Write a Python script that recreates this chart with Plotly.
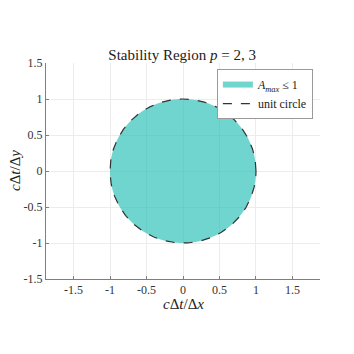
import numpy as np
import plotly.graph_objects as go

# stability region (|A| <= 1) for p = 2, 3 coincides with the unit disc
RADIUS = 1.0
N_POINTS = 361
X_TICKS = [-1.5, -1, -0.5, 0, 0.5, 1, 1.5]
Y_TICKS = [-1.5, -1, -0.5, 0, 0.5, 1, 1.5]
X_LABELS = ["-1.5", "-1", "-0.5", "0", "0.5", "1", "1.5"]
Y_LABELS = ["-1.5", "-1", "-0.5", "0", "0.5", "1", "1.5"]

theta = np.linspace(0, 2 * np.pi, N_POINTS)
cx = RADIUS * np.cos(theta)
cy = RADIUS * np.sin(theta)

SERIF = "Liberation Serif, DejaVu Serif, serif"
TEAL = "rgba(26,188,178,0.62)"
AXIS = "#7f7f7f"
GRID = "#ececec"
INK = "#222222"

fig = go.Figure()
fig.add_trace(go.Scatter(x=cx, y=cy, fill="toself", fillcolor=TEAL, mode="none",
                         name="<i>A</i><sub><i>max</i></sub> ≤ 1"))
fig.add_trace(go.Scatter(x=cx, y=cy, mode="lines", name="unit circle",
                         line=dict(color="#333333", width=1.2, dash="dash")))

axis_common = dict(showgrid=True, gridcolor=GRID, gridwidth=1, zeroline=False,
                   showline=True, linecolor=AXIS, linewidth=1, ticks="inside",
                   ticklen=3, tickcolor=AXIS, mirror=False, automargin=False,
                   tickfont=dict(family=SERIF, size=12, color="#333333"))

# axis titles placed as annotations for tighter control
fig.add_annotation(text="<i>c</i>Δ<i>t</i>/Δ<i>x</i>", xref="paper", yref="paper",
                   x=0.5, y=0, yanchor="middle", yshift=-25, showarrow=False,
                   font=dict(family=SERIF, size=15, color=INK))
fig.add_annotation(text="<i>c</i>Δ<i>t</i>/Δ<i>y</i>", xref="paper", yref="paper",
                   x=0, y=0.5, xanchor="center", xshift=-31, textangle=-90,
                   showarrow=False, font=dict(family=SERIF, size=15, color=INK))

# page body adds an 8px offset, so margins are shifted to compensate
fig.update_layout(
    width=354, height=354,
    paper_bgcolor="white", plot_bgcolor="white",
    margin=dict(l=38, r=42, t=55, b=83),
    title=dict(text="Stability Region <i>p</i> = 2, 3", x=0.492, xanchor="center",
               y=0.868, yanchor="middle",
               font=dict(family=SERIF, size=15, color=INK)),
    xaxis=dict(range=[-1.877, 1.877], tickvals=X_TICKS, ticktext=X_LABELS,
               **axis_common),
    yaxis=dict(range=[-1.5, 1.5], tickvals=Y_TICKS, ticktext=Y_LABELS,
               **axis_common),
    legend=dict(x=0.974, y=0.972, xanchor="right", yanchor="top",
                bgcolor="white", bordercolor="#9a9a9a", borderwidth=1,
                font=dict(family=SERIF, size=12, color=INK),
                tracegroupgap=0, itemwidth=30),
    showlegend=True,
)

fig.write_html("out.html")
